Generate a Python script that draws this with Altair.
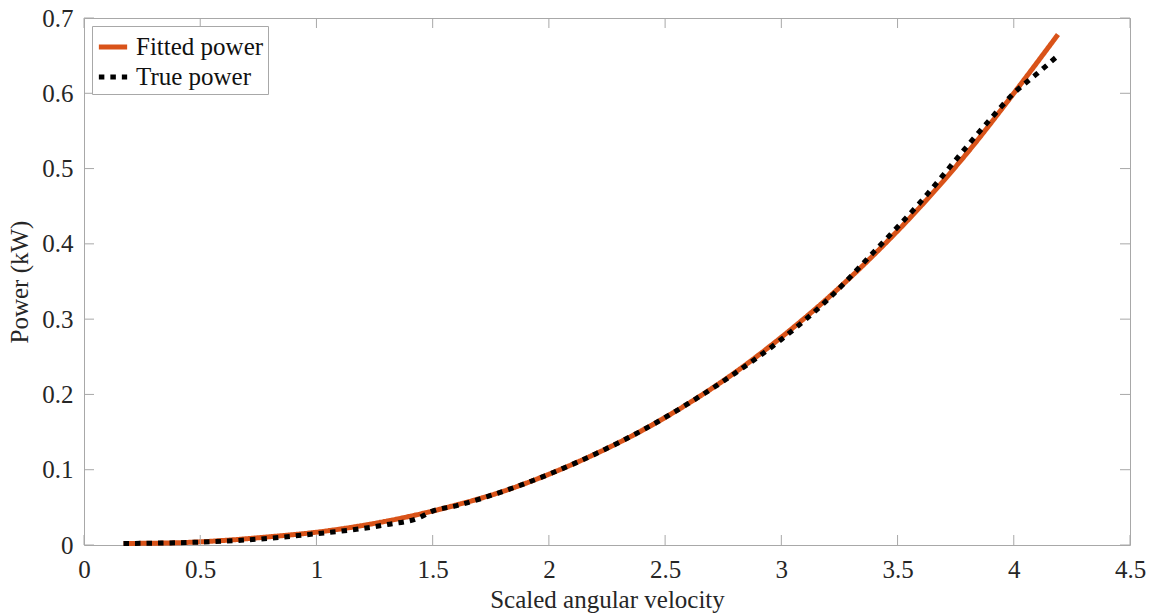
import altair as alt
import pandas as pd

# ---- data ----
fit_x = [0.17, 0.4, 0.6, 0.8, 1.0, 1.2, 1.4, 1.6, 1.8, 2.0, 2.2, 2.4, 2.6, 2.8,
         3.0, 3.2, 3.4, 3.6, 3.8, 4.0, 4.19]
fit_y = [0.002, 0.003, 0.006, 0.011, 0.017, 0.026, 0.038, 0.053, 0.071, 0.094,
         0.121, 0.152, 0.188, 0.229, 0.276, 0.328, 0.386, 0.450, 0.521, 0.600, 0.678]

true_x = [0.17, 0.4, 0.6, 0.8, 1.0, 1.2, 1.3, 1.44, 1.5, 1.6, 1.8, 2.0, 2.2, 2.4,
          2.6, 2.8, 3.0, 3.2, 3.4, 3.6, 3.8, 3.9, 4.0, 4.1, 4.19]
true_y = [0.002, 0.003, 0.005, 0.009, 0.015, 0.022, 0.027, 0.036, 0.045, 0.052,
          0.071, 0.094, 0.121, 0.152, 0.188, 0.228, 0.273, 0.326, 0.390, 0.456,
          0.530, 0.566, 0.600, 0.626, 0.650]

series_names = ["Fitted power", "True power"]
x_ticks = [0, 0.5, 1, 1.5, 2, 2.5, 3, 3.5, 4, 4.5]
y_ticks = [0, 0.1, 0.2, 0.3, 0.4, 0.5, 0.6, 0.7]

W, H = 1046, 527
FONT = "Liberation Serif"
GREY = "#A8A8A8"
TXT = "#262626"

rows = [{"x": a, "y": b, "series": series_names[0]} for a, b in zip(fit_x, fit_y)]
rows += [{"x": a, "y": b, "series": series_names[1]} for a, b in zip(true_x, true_y)]
df = pd.DataFrame(rows)
dfx = pd.DataFrame({"x": x_ticks})
dfy = pd.DataFrame({"y": y_ticks})

xscale = alt.Scale(domain=[0, 4.5], nice=False, zero=False)
yscale = alt.Scale(domain=[0, 0.7], nice=False, zero=False)
xaxis = alt.Axis(values=x_ticks, format="~g", title="Scaled angular velocity",
                 ticks=False, domain=False, grid=False, labelPadding=12, titlePadding=5,
                 labelFlush=False)
yaxis = alt.Axis(values=y_ticks, format="~g", title="Power (kW)",
                 ticks=False, domain=False, grid=False, labelPadding=11, titlePadding=9,
                 labelFlush=False)

lines = alt.Chart(df).mark_line(interpolate="monotone", strokeWidth=5, strokeCap="butt").encode(
    x=alt.X("x:Q", scale=xscale, axis=xaxis),
    y=alt.Y("y:Q", scale=yscale, axis=yaxis),
    color=alt.Color("series:N",
                    scale=alt.Scale(domain=series_names, range=["#D95319", "#000000"]),
                    legend=alt.Legend(title=None, orient="none", legendX=8, legendY=8,
                                      symbolType="stroke", symbolSize=800,
                                      symbolStrokeWidth=5, labelFont=FONT,
                                      labelFontSize=25, labelColor="#111",
                                      strokeColor=GREY, padding=4, rowPadding=0,
                                      labelOffset=6, fillColor="white")),
    strokeDash=alt.StrokeDash("series:N",
                              scale=alt.Scale(domain=series_names, range=[[1, 0], [5.5, 6]]),
                              legend=alt.Legend(title=None, orient="none", legendX=8, legendY=8)),
    detail="series:N",
)

bottom_ticks = alt.Chart(dfx).mark_rule(color=GREY, strokeWidth=1).encode(
    x=alt.X("x:Q", scale=xscale, axis=xaxis), y=alt.value(H), y2=alt.value(H - 10))
top_ticks = alt.Chart(dfx).mark_rule(color=GREY, strokeWidth=1).encode(
    x=alt.X("x:Q", scale=xscale, axis=xaxis), y=alt.value(0), y2=alt.value(10))
left_ticks = alt.Chart(dfy).mark_rule(color=GREY, strokeWidth=1).encode(
    y=alt.Y("y:Q", scale=yscale, axis=yaxis), x=alt.value(0), x2=alt.value(10))
right_ticks = alt.Chart(dfy).mark_rule(color=GREY, strokeWidth=1).encode(
    y=alt.Y("y:Q", scale=yscale, axis=yaxis), x=alt.value(W - 10), x2=alt.value(W))

chart = alt.layer(lines, bottom_ticks, top_ticks, left_ticks, right_ticks).properties(
    width=W, height=H,
    autosize=alt.AutoSizeParams(type="none"),
    padding={"left": 84, "top": 18, "right": 23, "bottom": 70},
    background="white",
).configure_view(
    stroke=GREY, strokeWidth=1
).configure_axis(
    labelFont=FONT, labelFontSize=25, labelColor=TXT,
    titleFont=FONT, titleFontSize=25, titleColor=TXT, titleFontWeight="normal",
)

chart.save("out.html", embed_options={"renderer": "svg", "actions": False})
